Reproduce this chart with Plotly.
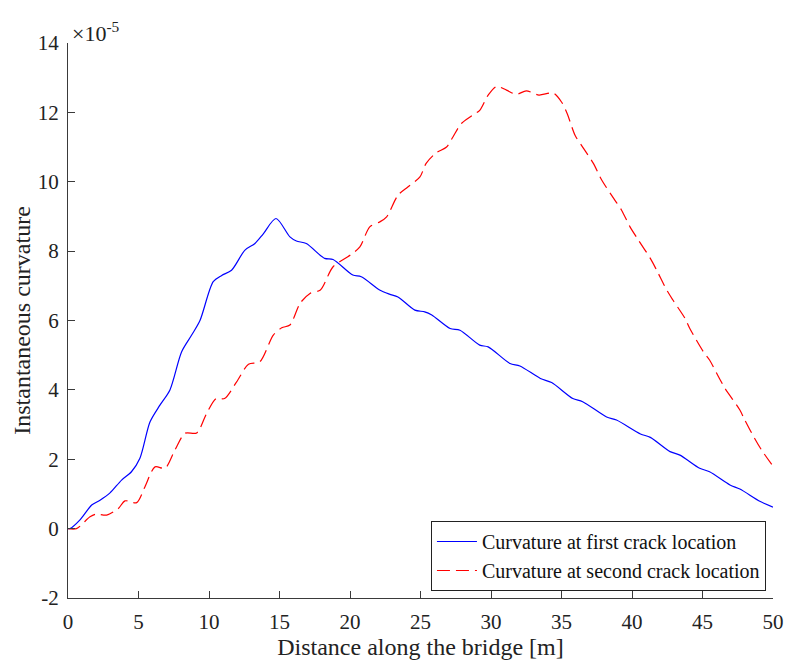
import plotly.graph_objects as go

# Blue: curvature at first crack location (x in m, y in 1e-5)
x_first = [0, 0.14, 0.85, 1.68, 2.27, 2.98, 3.8, 4.5, 5.1, 5.82, 6.52, 7.23, 8.06, 8.77, 9.36,
           10.3, 10.9, 11.6, 12.55, 13.26, 13.85, 14.75, 15.74, 16.2, 16.9, 18.2, 18.8, 20.2,
           20.8, 22.1, 22.8, 23.4, 24.6, 25.3, 25.8, 27.1, 27.8, 29.2, 29.8, 31.35, 32.05,
           33.5, 34.3, 35.8, 36.5, 38.2, 38.9, 40.6, 41.3, 42.7, 43.4, 44.8, 45.5, 46.95,
           47.65, 49.1, 50]
y_first = [0, 0.0, 0.25, 0.68, 0.82, 1.03, 1.4, 1.64, 2.03, 3.08, 3.56, 4.0, 5.1, 5.58, 6.0,
           7.12, 7.3, 7.45, 8.03, 8.22, 8.5, 8.94, 8.41, 8.29, 8.22, 7.79, 7.76, 7.31,
           7.26, 6.88, 6.76, 6.68, 6.3, 6.25, 6.16, 5.77, 5.72, 5.29, 5.24, 4.76, 4.69,
           4.33, 4.21, 3.75, 3.66, 3.22, 3.13, 2.73, 2.63, 2.22, 2.12, 1.74, 1.64, 1.26,
           1.14, 0.78, 0.62]

# Red: curvature at second crack location
x_second = [0, 0.6, 1.56, 2.0, 2.74, 3.57, 4.04, 4.87, 5.46, 6.17, 6.88, 7.59, 8.3, 9.13,
            9.83, 10.5, 11.1, 11.96, 12.8, 13.6, 14.56, 15.16, 15.74, 16.45, 17.16, 17.9,
            18.8, 20.0, 20.7, 21.4, 22.1, 22.6, 23.4, 24.1, 24.96, 25.4, 26.1, 26.85, 27.3,
            27.9, 28.7, 29.2, 29.8, 30.4, 31.1, 31.8, 32.5, 33.4, 34.4, 35.0, 35.4, 35.96,
            36.5, 37.26, 37.85, 38.7, 39.26, 39.86, 40.45, 41.3, 41.75, 42.46, 42.9, 43.76,
            44.1, 45.06, 45.5, 46.2, 46.6, 47.65, 48.0, 48.7, 49.2, 50]
y_second = [0, 0, 0.34, 0.42, 0.39, 0.58, 0.8, 0.75, 1.21, 1.78, 1.74, 2.27, 2.75, 2.76,
            3.32, 3.75, 3.75, 4.23, 4.74, 4.81, 5.58, 5.79, 5.87, 6.49, 6.78, 6.88,
            7.55, 7.88, 8.12, 8.7, 8.84, 8.99, 9.61, 9.85, 10.14, 10.53, 10.83, 11.0, 11.29,
            11.68, 11.92, 12.06, 12.5, 12.75, 12.64, 12.52, 12.62, 12.5, 12.56, 12.3, 11.97, 11.34,
            11.0, 10.53, 10.05, 9.52, 9.18, 8.7, 8.32, 7.79, 7.45, 6.88, 6.59, 6.06,
            5.77, 5.1, 4.86, 4.33, 4.04, 3.42, 3.13, 2.6, 2.26, 1.8]

x_ticks = [0, 5, 10, 15, 20, 25, 30, 35, 40, 45, 50]
y_ticks = [-2, 0, 2, 4, 6, 8, 10, 12, 14]

FONT = "Liberation Serif, Times New Roman, serif"
AX = "#3a3a3a"
TXT = "#222222"

fig = go.Figure()
fig.add_trace(go.Scatter(x=x_first, y=y_first, mode="lines", line_shape="spline",
                         line=dict(color="#0000FF", width=1.2, smoothing=0.8),
                         name="Curvature at first crack location"))
fig.add_trace(go.Scatter(x=x_second, y=y_second, mode="lines", line_shape="spline",
                         line=dict(color="#FF0000", width=1.2, dash="13px,6px", smoothing=0.8),
                         name="Curvature at second crack location"))

fig.update_layout(
    width=787, height=662,
    margin=dict(l=68, r=14, t=43, b=64, autoexpand=False),
    paper_bgcolor="white", plot_bgcolor="white",
    font=dict(family=FONT, size=21, color=TXT),
    showlegend=True,
    legend=dict(x=0.990, y=0.0126, xanchor="right", yanchor="bottom",
                bgcolor="white", bordercolor="#222222", borderwidth=1,
                font=dict(family=FONT, size=20, color="#111111"),
                tracegroupgap=0, itemwidth=40),
    xaxis=dict(range=[0, 50], tickvals=x_ticks, ticktext=[str(v) for v in x_ticks],
               showgrid=False, zeroline=False, showline=True, linecolor=AX, linewidth=1,
               ticks="inside", ticklen=7, tickcolor=AX, ticklabelstandoff=5,
               automargin=False,
               title=dict(text="Distance along the bridge [m]", font=dict(size=24, color=TXT), standoff=4),
               tickfont=dict(size=21, color=TXT)),
    yaxis=dict(range=[-2, 14], tickvals=y_ticks, ticktext=[str(v) for v in y_ticks],
               showgrid=False, zeroline=False, showline=True, linecolor=AX, linewidth=1,
               ticks="inside", ticklen=7, tickcolor=AX, ticklabelstandoff=4,
               automargin=False,
               title=dict(text="Instantaneous curvature", font=dict(size=24, color=TXT), standoff=0),
               tickfont=dict(size=21, color=TXT)),
)

fig.add_annotation(xref="paper", yref="paper", x=0.003, y=1.0, xanchor="left", yanchor="bottom",
                   text="×10<sup>-5</sup>", showarrow=False,
                   font=dict(family=FONT, size=22, color=TXT), yshift=-5)

fig.write_html("out.html")
